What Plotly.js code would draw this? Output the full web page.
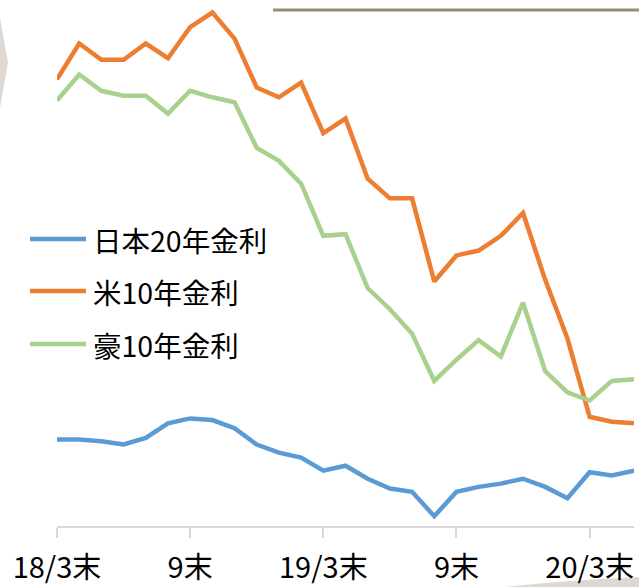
<!DOCTYPE html>
<html>
<head>
<meta charset="utf-8">
<script src="https://cdn.plot.ly/plotly-3.0.1.min.js"></script>
<style>html,body{margin:0;padding:0;background:#fff;}#chart{width:639px;height:587px;}</style>
</head>
<body>
<div id="chart"></div>
<script>
// Month-end observations, 2018/3 to 2020/5
const months = ['18/3','18/4','18/5','18/6','18/7','18/8','18/9','18/10','18/11','18/12',
  '19/1','19/2','19/3','19/4','19/5','19/6','19/7','19/8','19/9','19/10','19/11','19/12',
  '20/1','20/2','20/3','20/4','20/5'];

const seriesNames = ['日本20年金利', '米10年金利', '豪10年金利'];

// Japan 20Y yield (%)
const japan20 = [0.53,0.53,0.52,0.50,0.54,0.63,0.66,0.65,0.60,0.50,
  0.45,0.42,0.34,0.37,0.29,0.23,0.21,0.06,0.21,0.24,0.26,0.29,
  0.24,0.17,0.33,0.31,0.34];

// US 10Y yield (%)
const us10 = [2.74,2.96,2.86,2.86,2.96,2.87,3.06,3.15,2.99,2.69,
  2.63,2.72,2.41,2.50,2.13,2.01,2.01,1.50,1.66,1.69,1.78,1.92,
  1.51,1.15,0.67,0.64,0.63];

// Australia 10Y yield (%)
const aus10 = [2.61,2.77,2.67,2.64,2.64,2.53,2.67,2.63,2.60,2.32,
  2.24,2.10,1.78,1.79,1.46,1.33,1.18,0.89,1.02,1.14,1.04,1.37,
  0.95,0.82,0.77,0.89,0.90];

const tickMonths = ['18/3','18/9','19/3','19/9','20/3'];
const tickLabels = ['18/3末','9末','19/3末','9末','20/3末'];

const colors = ['#5B9BD5', '#ED7D31', '#A9D18E'];
const allSeries = [japan20, us10, aus10];

const W = 639, H = 587;
const M = {l: 57, r: 5, t: 0, b: 61};
const PW = W - M.l - M.r, PH = H - M.t - M.b;
const px = x => (x - M.l) / PW;          // page pixel -> paper x
const py = y => (H - M.b - y) / PH;      // page pixel -> paper y

const traces = allSeries.map((vals, i) => ({
  type: 'scatter', mode: 'lines',
  x: months, y: vals, name: seriesNames[i],
  line: {color: colors[i], width: 4.5, shape: 'linear'},
  hoverinfo: 'skip', showlegend: false
}));

const font = '"Noto Sans CJK JP", "Noto Sans", sans-serif';

// custom legend
const legendY = [239, 291, 344];
const shapes = [];
const annotations = [];
seriesNames.forEach((n, i) => {
  shapes.push({type: 'line', xref: 'paper', yref: 'paper',
    x0: px(30), x1: px(86), y0: py(legendY[i]), y1: py(legendY[i]),
    line: {color: colors[i], width: 4.5}});
  annotations.push({xref: 'paper', yref: 'paper', x: px(91), y: py(legendY[i]),
    xanchor: 'left', yanchor: 'middle', text: n, showarrow: false,
    font: {family: font, size: 28.5, color: '#000'}});
});

// slide decorations
shapes.push({type: 'line', xref: 'paper', yref: 'paper', x0: px(273), x1: px(640),
  y0: py(10), y1: py(10), line: {color: '#978a74', width: 3}, layer: 'below'});
shapes.push({type: 'path', xref: 'paper', yref: 'paper', layer: 'below',
  path: `M ${px(0)} ${py(18)} L ${px(8)} ${py(63)} L ${px(0)} ${py(108)} Z`,
  fillcolor: '#ddd9d2', line: {width: 0}});
shapes.push({type: 'path', xref: 'paper', yref: 'paper', layer: 'below',
  path: `M ${px(505)} ${py(587)} Q ${px(570)} ${py(580)} ${px(640)} ${py(577)} L ${px(640)} ${py(588)} Z`,
  fillcolor: '#ddd9d2', line: {width: 0}});

const layout = {
  width: W, height: H,
  margin: M,
  paper_bgcolor: '#ffffff', plot_bgcolor: 'rgba(0,0,0,0)',
  showlegend: false,
  xaxis: {
    type: 'category', range: [0, months.length - 1],
    tickvals: tickMonths, ticktext: tickLabels,
    showgrid: false, zeroline: false,
    showline: true, linecolor: '#d9d9d9', linewidth: 2,
    ticks: 'outside', ticklen: 10, tickwidth: 2, tickcolor: '#d9d9d9',
    ticklabelstandoff: 5,
    tickfont: {family: font, size: 29, color: '#000'}
  },
  yaxis: {
    range: [0, (H - M.b) / 163],
    visible: false, showgrid: false, zeroline: false, fixedrange: true
  },
  shapes: shapes,
  annotations: annotations
};

Plotly.newPlot('chart', traces, layout, {displayModeBar: false, staticPlot: true});
</script>
</body>
</html>
